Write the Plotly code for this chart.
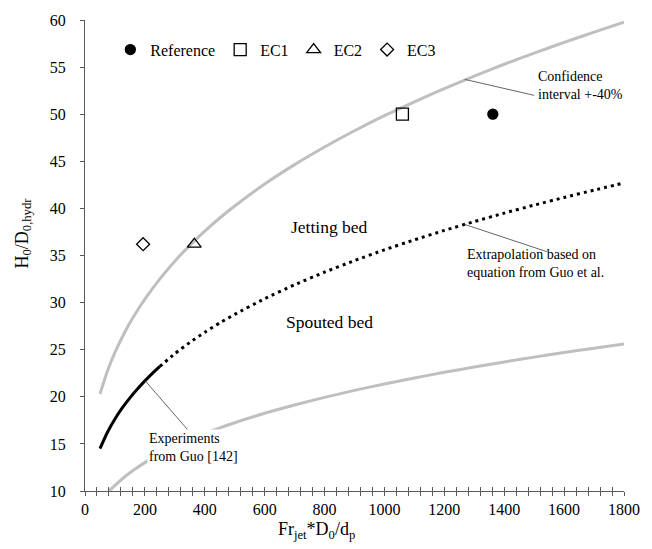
import plotly.graph_objects as go

# Spout-to-jet transition after Guo et al.: measured range and extrapolation
guo_exp_x = [50, 75, 100, 125, 150, 175, 200, 225, 250]
guo_exp_y = [14.50, 16.24, 17.65, 18.84, 19.89, 20.83, 21.69, 22.49, 23.23]
guo_ext_x = [250, 300, 350, 400, 450, 500, 600, 700, 800, 900, 1000, 1100, 1200,
             1300, 1400, 1500, 1600, 1700, 1800]
guo_ext_y = [23.23, 24.57, 25.77, 26.85, 27.84, 28.75, 30.42, 31.89, 33.23, 34.46, 35.60, 36.66, 37.66,
             38.60, 39.50, 40.35, 41.16, 41.94, 42.70]

# Confidence band (+-40 %) around the correlation
upper_x = [50, 75, 100, 125, 150, 175, 200, 250, 300, 350, 400, 450, 500, 600, 700, 800,
           900, 1000, 1100, 1200, 1300, 1400, 1500, 1600, 1700, 1800]
upper_y = [20.30, 22.74, 24.71, 26.38, 27.85, 29.16, 30.37, 32.52, 34.40, 36.08, 37.59, 38.98, 40.25,
           42.59, 44.65, 46.52, 48.24, 49.84, 51.32, 52.72, 54.04, 55.30, 56.49, 57.62, 58.72, 59.78]
lower_x = [80, 100, 125, 150, 175, 200, 250, 300, 350, 400, 450, 500, 600, 700, 800,
           900, 1000, 1100, 1200, 1300, 1400, 1500, 1600, 1700, 1800]
lower_y = [10.00, 10.59, 11.30, 11.93, 12.50, 13.01, 13.94, 14.74, 15.46, 16.11, 16.70, 17.25, 18.25,
           19.13, 19.94, 20.68, 21.36, 22.00, 22.60, 23.16, 23.70, 24.21, 24.70, 25.16, 25.62]

# Operating points of the investigated cases
case_names = ["Reference", "EC1", "EC2", "EC3"]
case_x = [1362, 1060, 365, 194]
case_y = [50.0, 50.0, 36.2, 36.2]
case_symbols = ["circle", "square-open", "triangle-up-open", "diamond-open"]
case_sizes = [10, 12, 12, 10]

x_ticks = [0, 200, 400, 600, 800, 1000, 1200, 1400, 1600, 1800]
y_ticks = [10, 15, 20, 25, 30, 35, 40, 45, 50, 55, 60]

FONT = "Liberation Serif, Times New Roman, DejaVu Serif, serif"
GRAY = "#bfbfbf"
AXIS = "#595959"

fig = go.Figure()

band = dict(color=GRAY, width=3, shape="spline", smoothing=0.6)
fig.add_trace(go.Scatter(x=upper_x, y=upper_y, mode="lines", line=band,
                         showlegend=False, hoverinfo="skip"))
fig.add_trace(go.Scatter(x=lower_x, y=lower_y, mode="lines", line=band,
                         showlegend=False, hoverinfo="skip"))
fig.add_trace(go.Scatter(x=guo_ext_x, y=guo_ext_y, mode="lines",
                         line=dict(color="black", width=3, dash="3px,4px",
                                   shape="spline", smoothing=0.6),
                         showlegend=False, hoverinfo="skip"))
fig.add_trace(go.Scatter(x=guo_exp_x, y=guo_exp_y, mode="lines",
                         line=dict(color="black", width=3, shape="spline", smoothing=0.6),
                         showlegend=False, hoverinfo="skip"))

for name, x, y, sym, size in zip(case_names, case_x, case_y, case_symbols, case_sizes):
    fig.add_trace(go.Scatter(
        x=[x], y=[y], mode="markers", name=name,
        marker=dict(symbol=sym, size=size, color="black",
                    line=dict(color="black", width=1.3)),
    ))

# Leader lines from the curves to their labels
leader = dict(color="#666666", width=1)
fig.add_shape(type="line", x0=1268, y0=53.7, x1=1500, y1=52.0, line=leader)
fig.add_shape(type="line", x0=1268, y0=38.3, x1=1543, y1=35.4, line=leader)
fig.add_shape(type="line", x0=201, y0=21.7, x1=343, y1=16.5, line=leader)

small = dict(family=FONT, size=14, color="black")
fig.add_annotation(x=1505, y=53.0, text="Confidence<br>interval +-40%", showarrow=False,
                   xanchor="left", yanchor="middle", align="left", font=small)
fig.add_annotation(x=1270, y=34.1, text="Extrapolation based on<br>equation from Guo et al.",
                   showarrow=False, xanchor="left", yanchor="middle", align="left", font=small)
fig.add_annotation(x=206, y=14.6, text="Experiments<br>from Guo [142]", showarrow=False,
                   xanchor="left", yanchor="middle", align="left", font=small,
                   bgcolor="white", borderpad=1)
fig.add_annotation(x=815, y=38.0, text="Jetting bed", showarrow=False,
                   font=dict(family=FONT, size=17.5, color="black"))
fig.add_annotation(x=817, y=27.95, text="Spouted bed", showarrow=False,
                   font=dict(family=FONT, size=17.5, color="black"))

# Axis titles
fig.add_annotation(xref="paper", yref="paper", x=0.43, y=-0.084,
                   text="Fr<sub>jet</sub>*D<sub>0</sub>/d<sub>p</sub>", showarrow=False,
                   xanchor="center", yanchor="middle", font=dict(family=FONT, size=18))
fig.add_annotation(xref="paper", yref="paper", x=-0.114, y=0.548, textangle=-90,
                   text="H<sub>0</sub>/D<sub>0,hydr</sub>", showarrow=False,
                   xanchor="center", yanchor="middle", font=dict(family=FONT, size=18))

fig.update_layout(
    width=652, height=549,
    margin=dict(l=85, r=16, t=13, b=58),
    paper_bgcolor="white", plot_bgcolor="white",
    font=dict(family=FONT, size=15, color="black"),
    showlegend=True,
    legend=dict(orientation="h", x=0.047, y=0.937, xanchor="left", yanchor="middle",
                bgcolor="rgba(0,0,0,0)", font=dict(family=FONT, size=16),
                itemwidth=30, tracegroupgap=0),
    xaxis=dict(
        range=[0, 1800], tickvals=x_ticks, showgrid=False, zeroline=False,
        showline=True, linecolor=AXIS, linewidth=1.3,
        ticks="outside", ticklen=4, tickwidth=1.2, tickcolor=AXIS,
        minor=dict(dtick=40, ticks="outside", ticklen=4, tickwidth=1.2, tickcolor=AXIS),
        tickfont=dict(family=FONT, size=16),
    ),
    xaxis2=dict(
        range=[0, 1800], overlaying="x", tickvals=x_ticks, ticktext=[""] * len(x_ticks),
        showgrid=False, zeroline=False, showline=False,
        ticks="inside", ticklen=4, tickwidth=1.2, tickcolor=AXIS,
        minor=dict(dtick=40, ticks="inside", ticklen=4, tickwidth=1.2, tickcolor=AXIS),
    ),
    yaxis=dict(
        range=[10, 60], tickvals=y_ticks, showgrid=False, zeroline=False,
        showline=True, linecolor=AXIS, linewidth=1.3,
        ticks="outside", ticklen=4, tickwidth=1.2, tickcolor=AXIS,
        ticklabelstandoff=11,
        tickfont=dict(family=FONT, size=16),
    ),
)

# invisible trace that activates the overlaid axis carrying the inner tick marks
fig.add_trace(go.Scatter(x=[0], y=[10], xaxis="x2", mode="markers",
                         marker=dict(opacity=0), showlegend=False, hoverinfo="skip"))

fig.write_html("out.html")
